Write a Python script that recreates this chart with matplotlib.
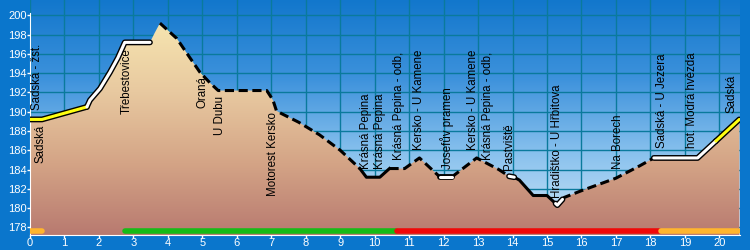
"""
vyskovy profil trasy Sadska - Kersko - Sadska
"""
import numpy as np
import matplotlib.pyplot as plt
from matplotlib.colors import LinearSegmentedColormap

# profil trasy (km, m n.m.)
km = [0, 0.35, 1.65, 1.74, 2.03, 2.32, 2.55, 2.75, 3.48, 3.62, 3.77, 4.26, 4.64,
      4.93, 5.22, 5.46, 6.87, 7.05, 7.15, 7.3, 7.8, 8.4, 9.0, 9.57, 9.76, 10.15,
      10.43, 10.87, 11.3, 11.9, 12.23, 12.96, 13.6, 13.9, 14.05, 14.2, 14.6, 15.0,
      15.3, 15.5, 16.0, 17.0, 17.7, 18.1, 19.37, 20.58]
elev = [189.2, 189.2, 190.5, 191.2, 192.4, 194.1, 195.6, 197.2, 197.2, 198.2, 199.2,
        197.6, 195.6, 194.1, 193.0, 192.2, 192.2, 191.2, 190.1, 189.8, 188.9, 187.6,
        186.0, 184.1, 183.2, 183.2, 184.1, 184.1, 185.2, 183.2, 183.2, 185.2, 184.0,
        183.3, 183.2, 182.9, 181.3, 181.3, 180.3, 181.1, 181.8, 183.1, 184.4, 185.2,
        185.2, 189.2]

# useky cary (od km, do km, styl)
seg_from = [0, 1.65, 3.77, 9.57, 10.43, 11.9, 12.23, 13.9, 14.05, 15.25, 15.45, 18.1, 19.9]
seg_to = [1.65, 3.48, 9.57, 10.43, 11.9, 12.23, 13.9, 14.05, 15.25, 15.45, 18.1, 19.9, 20.58]
seg_style = ['yellow', 'white', 'dash', 'solid', 'dash', 'white', 'dash', 'white',
             'solid', 'white', 'dash', 'white', 'yellow']

# barevne pruhy dole
bar_from = [0, 2.75, 10.65, 18.3]
bar_to = [0.35, 10.62, 18.25, 20.55]
bar_color = ['#ffb52e', '#16bb16', '#f00808', '#ffb52e']

# popisky zastavek (nazev, km, spodni okraj textu)
names = ['Sadská - žst.', 'Sadská', 'Třebestovice', 'Oraná', 'U Dubu', 'Motorest Kersko',
         'Krásná Pepina', 'Krásná Pepina', 'Krásná Pepina - odb,', 'Kersko - U Kamene',
         'Josefův pramen', 'Kersko - U Kamene', 'Krásná Pepina - odb,', 'Pastviště',
         'Hradištko - U Hřbitova', 'Na Borech', 'Sadská - U Jezera', 'hot. Modrá hvězda',
         'Sadská']
name_km = [0.2, 0.3, 2.8, 5.0, 5.5, 7.05, 9.75, 10.15, 10.7, 11.3, 12.1, 12.85, 13.3,
           13.9, 15.3, 17.05, 18.35, 19.2, 20.35]
name_y = [190.15, 184.65, 189.8, 190.35, 187.55, 181.3, 184.1, 184.1, 184.95, 186.0,
          184.1, 186.0, 184.95, 183.9, 181.0, 184.1, 186.2, 186.2, 189.9]

x_ticks = list(range(0, 21))
y_ticks = list(range(178, 201, 2))

XMAX = 20.6
YMIN, YMAX = 177.2, 201.6
bg = '#0a76cc'

fig = plt.figure(figsize=(7.5, 2.5), dpi=100, facecolor=bg)
ax = fig.add_axes([30 / 750, 15 / 250, 710 / 750, 235 / 250])
ax.set_xlim(0, XMAX)
ax.set_ylim(YMIN, YMAX)

# obloha
sky = LinearSegmentedColormap.from_list('sky', ['#cfe6f8', '#8cc3ee', '#3d92dc', '#1277cc'])
ax.imshow(np.linspace(0, 1, 256).reshape(-1, 1), cmap=sky, origin='lower', aspect='auto',
          extent=[0, XMAX, YMIN, YMAX], zorder=0)

# mrizka
for x in x_ticks:
    ax.axvline(x, color='#0a7a9c', lw=1, zorder=1)
for y in y_ticks:
    ax.axhline(y, color='#0a7a9c', lw=1, zorder=1)

# teren s prechodem barev
poly = ax.fill_between(km, elev, YMIN, color='none', zorder=2)
ground = LinearSegmentedColormap.from_list('ground', ['#b87a70', '#d4a486', '#e8c9a0', '#f7e6b0'])
img = ax.imshow(np.linspace(0, 1, 256).reshape(-1, 1), cmap=ground, origin='lower',
                aspect='auto', extent=[0, XMAX, YMIN, 199.5], zorder=2)
img.set_clip_path(poly.get_paths()[0], transform=ax.transData)

# cara profilu po usecich
for a, b, st in zip(seg_from, seg_to, seg_style):
    xs = [a] + [k for k in km if a < k < b] + [b]
    ys = np.interp(xs, km, elev)
    if st in ('yellow', 'white'):
        col = '#ffff10' if st == 'yellow' else 'white'
        ax.plot(xs, ys, color='black', lw=4.2, solid_capstyle='round', zorder=4)
        ax.plot(xs, ys, color=col, lw=2.2, solid_capstyle='round', zorder=5)
    elif st == 'dash':
        ax.plot(xs, ys, color='black', lw=2.2, dashes=(3, 1.5), zorder=4)
    else:
        ax.plot(xs, ys, color='black', lw=2.2, zorder=4)

# pruhy
for a, b, c in zip(bar_from, bar_to, bar_color):
    ax.plot([a, b], [177.6, 177.6], color=c, lw=4, solid_capstyle='round', zorder=6)

# popisky
for n, x, y in zip(names, name_km, name_y):
    ax.text(x, y, n, rotation=90, ha='center', va='bottom', fontsize=8.3,
            family=['Liberation Sans', 'DejaVu Sans'], color='black', zorder=7)

ax.set_xticks(x_ticks)
ax.set_yticks(y_ticks)
ax.tick_params(colors='white', labelsize=8, length=2, width=1, pad=0.5)
for lab in ax.get_xticklabels() + ax.get_yticklabels():
    lab.set_family(['Liberation Sans', 'DejaVu Sans'])
for s in ['top', 'right']:
    ax.spines[s].set_visible(False)
ax.spines['left'].set_color('white')
ax.spines['bottom'].set_color('white')
ax.spines['left'].set_bounds(YMIN, 200.3)

fig.savefig('out.png', dpi=100, facecolor=bg)
